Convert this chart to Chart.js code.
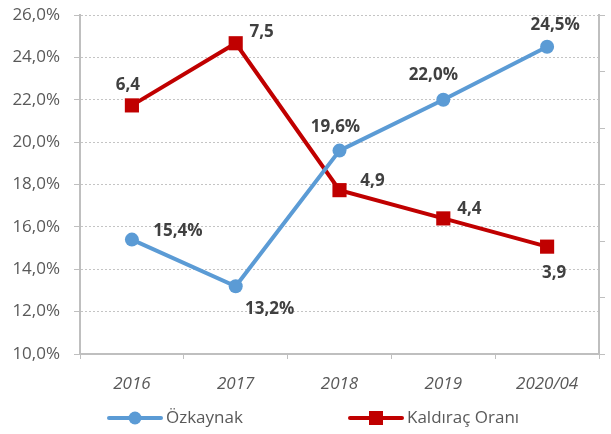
<!DOCTYPE html>
<html>
<head>
<meta charset="utf-8">
<script src="https://cdn.jsdelivr.net/npm/chart.js@4"></script>
<style>
  html, body { margin: 0; padding: 0; background: #fff; }
  #wrap { width: 611px; height: 434px; }
</style>
</head>
<body>
<div id="wrap"><canvas id="myChart" width="611" height="434"></canvas></div>
<script>
// Chart data
var years = ['2016', '2017', '2018', '2019', '2020/04'];
var ozkaynak = [15.4, 13.2, 19.6, 22.0, 24.5];
var kaldirac = [6.4, 7.5, 4.9, 4.4, 3.9];
var leftTicks = [10, 12, 14, 16, 18, 20, 22, 24, 26];

// Label offsets relative to each point (style only)
var ozkOffsets = [[46, -8], [34, 23], [-4, -23], [-10, -25], [8, -22]];
var kalOffsets = [[-4, -20], [26, -11], [33, -9], [26, -9], [7, 27]];

var blue = '#5b9bd5';
var red = '#c00000';
var axisGray = '#bfbfbf';
var fontFam = '"Open Sans", "Noto Sans", sans-serif';

function trFixed(v) {
  return v.toFixed(1).replace('.', ',');
}

// Draws values next to the points and the legend at the bottom
var labelsPlugin = {
  id: 'labelsPlugin',
  afterDatasetsDraw: function(chart) {
    var ctx = chart.ctx;
    ctx.save();
    ctx.font = 'bold 17px ' + fontFam;
    ctx.fillStyle = '#404040';
    ctx.textAlign = 'center';
    ctx.textBaseline = 'middle';
    var m0 = chart.getDatasetMeta(0);
    m0.data.forEach(function(pt, i) {
      ctx.fillText(trFixed(ozkaynak[i]) + '%', pt.x + ozkOffsets[i][0], pt.y + ozkOffsets[i][1]);
    });
    var m1 = chart.getDatasetMeta(1);
    m1.data.forEach(function(pt, i) {
      ctx.fillText(trFixed(kaldirac[i]), pt.x + kalOffsets[i][0], pt.y + kalOffsets[i][1]);
    });

    // legend
    var ly = 418;
    ctx.lineWidth = 4;
    ctx.lineCap = 'round';
    ctx.strokeStyle = blue;
    ctx.beginPath(); ctx.moveTo(109, ly); ctx.lineTo(161, ly); ctx.stroke();
    ctx.fillStyle = blue;
    ctx.beginPath(); ctx.arc(135, ly, 6.5, 0, Math.PI * 2); ctx.fill();
    ctx.strokeStyle = red;
    ctx.beginPath(); ctx.moveTo(350, ly); ctx.lineTo(402, ly); ctx.stroke();
    ctx.fillStyle = red;
    ctx.fillRect(369, ly - 7, 14, 14);
    ctx.font = '17px ' + fontFam;
    ctx.fillStyle = '#595959';
    ctx.textAlign = 'left';
    ctx.fillText('Özkaynak', 166, ly);
    ctx.fillText('Kaldıraç Oranı', 407, ly);
    ctx.restore();
  }
};

var ctx = document.getElementById('myChart').getContext('2d');

var myChart = new Chart(ctx, {
  type: 'line',
  data: {
    labels: years,
    datasets: [{
      label: 'Özkaynak',
      data: ozkaynak,
      yAxisID: 'y',
      borderColor: blue,
      backgroundColor: blue,
      borderWidth: 4,
      pointStyle: 'circle',
      pointRadius: 7,
      pointHoverRadius: 7,
      pointBorderWidth: 0,
      tension: 0
    }, {
      label: 'Kaldıraç Oranı',
      data: kaldirac,
      yAxisID: 'y1',
      borderColor: red,
      backgroundColor: red,
      borderWidth: 4,
      pointStyle: 'rect',
      pointRadius: 10,
      pointHoverRadius: 10,
      pointBorderWidth: 0,
      tension: 0
    }]
  },
  options: {
    responsive: false,
    animation: false,
    layout: { padding: { top: 15, bottom: 0, left: 0, right: 0 } },
    plugins: {
      legend: { display: false },
      tooltip: { enabled: false }
    },
    scales: {
      x: {
        offset: true,
        grid: {
          offset: true,
          display: true,
          drawOnChartArea: false,
          drawTicks: true,
          tickLength: 5,
          color: axisGray
        },
        border: { color: axisGray, width: 2 },
        ticks: {
          color: '#595959',
          font: { family: fontFam, size: 17, style: 'italic' },
          padding: 15,
          maxRotation: 0
        },
        afterFit: function(s) {
          s.height = 80;
          s.paddingLeft = 0;
          s.paddingRight = 0;
        }
      },
      y: {
        position: 'left',
        min: 10,
        max: 26,
        afterBuildTicks: function(s) {
          s.ticks = leftTicks.map(function(v) { return { value: v }; });
        },
        grid: {
          color: '#c4c4c4',
          lineWidth: 1,
          tickLength: 6,
          tickColor: axisGray,
          tickBorderDash: [0, 0]
        },
        border: { color: axisGray, width: 2, dash: [2, 2] },
        ticks: {
          color: '#595959',
          font: { family: fontFam, size: 17 },
          padding: 14,
          callback: function(v) { return trFixed(v) + '%'; }
        },
        afterFit: function(s) {
          s.width = 80;
          s.paddingTop = 0;
          s.paddingBottom = 0;
        }
      },
      y1: {
        position: 'right',
        min: 2,
        max: 8,
        ticks: { display: false, stepSize: 1 },
        grid: {
          drawOnChartArea: false,
          tickLength: 6,
          color: axisGray
        },
        border: { color: axisGray, width: 2 },
        afterFit: function(s) {
          s.width = 12;
          s.paddingTop = 0;
          s.paddingBottom = 0;
        }
      }
    }
  },
  plugins: [labelsPlugin]
});
</script>
</body>
</html>
